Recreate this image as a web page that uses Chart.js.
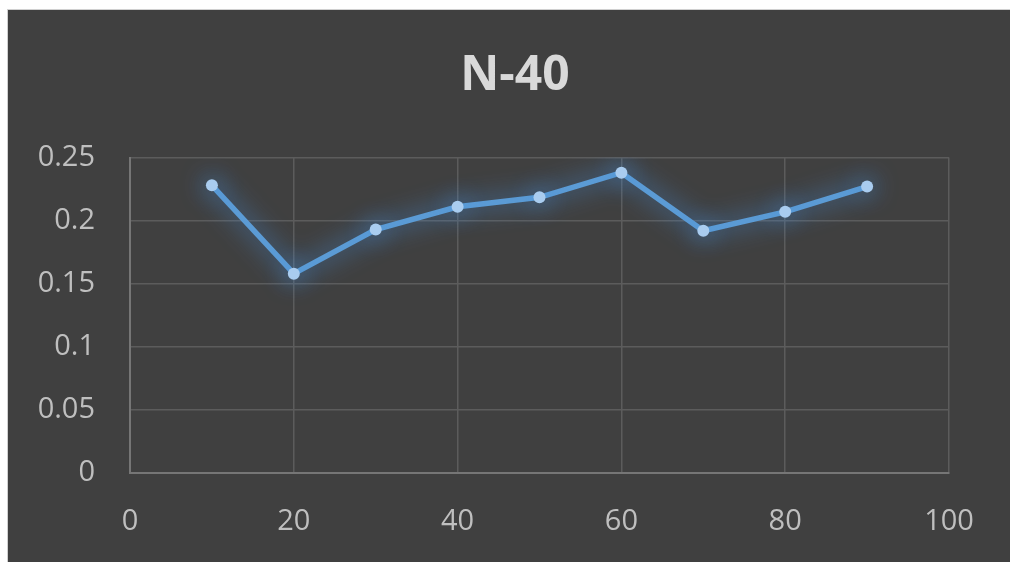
<!DOCTYPE html>
<html>
<head>
<meta charset="utf-8">
<script src="https://cdn.jsdelivr.net/npm/chart.js@4/dist/chart.umd.min.js"></script>
<style>
  html, body { margin: 0; padding: 0; background: #ffffff; width: 1010px; height: 562px; overflow: hidden; }
  #frame {
    position: absolute; left: 7px; top: 9px; width: 1003px; height: 553px;
    border-left: 1px solid #d0d0d0; border-top: 1px solid #d0d0d0;
    background: #404040;
  }
  #wrap { position: absolute; left: 0; top: 0; width: 1002px; height: 552px; }
</style>
</head>
<body>
<div id="frame"><div id="wrap"><canvas id="chart" width="1002" height="552"></canvas></div></div>
<script>
// Series: x positions and measured values
const xValues = [10, 20, 30, 40, 50, 60, 70, 80, 90];
const yValues = [0.228, 0.158, 0.193, 0.211, 0.2185, 0.238, 0.192, 0.207, 0.227];

// Axis ticks
const xTicks = [0, 20, 40, 60, 80, 100];
const yTicks = [0, 0.05, 0.1, 0.15, 0.2, 0.25];
const yTickLabels = ['0', '0.05', '0.1', '0.15', '0.2', '0.25'];

const chartTitle = 'N-40';

const points = xValues.map((x, i) => ({ x: x, y: yValues[i] }));

// Soft blue glow around the series line and markers
const glowPlugin = {
  id: 'glow',
  beforeDatasetDraw(chart) {
    const ctx = chart.ctx;
    ctx.save();
    ctx.shadowColor = 'rgba(70, 145, 225, 1)';
    ctx.shadowBlur = 24;
    ctx.shadowOffsetX = 0;
    ctx.shadowOffsetY = 0;
  },
  afterDatasetDraw(chart) {
    chart.ctx.restore();
  }
};

// Center the title over the whole dark panel rather than the padded box
const titleSpan = {
  id: 'titleSpan',
  afterLayout(chart) {
    const t = chart.titleBlock;
    if (t) { t.left = 12; t.right = chart.width; }
  }
};

const tickFont = { family: '"Open Sans", "Noto Sans", sans-serif', size: 29 };

new Chart(document.getElementById('chart'), {
  type: 'line',
  data: {
    datasets: [{
      data: points,
      borderColor: '#5b9bd5',
      borderWidth: 5.5,
      pointRadius: 6,
      pointBackgroundColor: '#a9ccef',
      pointBorderColor: '#a9ccef',
      pointBorderWidth: 0,
      tension: 0,
      fill: false
    }]
  },
  plugins: [glowPlugin, titleSpan],
  options: {
    responsive: false,
    animation: false,
    events: [],
    layout: { padding: { left: 0, right: 61, top: 0, bottom: 23 } },
    plugins: {
      legend: { display: false },
      tooltip: { enabled: false },
      title: {
        display: true,
        text: chartTitle,
        color: '#d9d9d9',
        font: { family: '"Open Sans", "Noto Sans", sans-serif', size: 48, weight: 'bold' },
        lineHeight: 1.2,
        padding: { top: 38, bottom: 52 }
      }
    },
    scales: {
      x: {
        type: 'linear',
        min: 0,
        max: 100,
        afterBuildTicks(scale) { scale.ticks = xTicks.map(v => ({ value: v })); },
        afterFit(scale) { scale.height = 66; },
        ticks: {
          color: '#bfbfbf',
          font: tickFont,
          padding: 31,
          maxRotation: 0,
          callback: v => String(v)
        },
        grid: { color: '#5c5c5c', lineWidth: 1.5, drawTicks: false },
        border: { color: '#767676', width: 2 }
      },
      y: {
        min: 0,
        max: 0.25,
        afterBuildTicks(scale) { scale.ticks = yTicks.map(v => ({ value: v })); },
        afterFit(scale) { scale.width = 122; },
        ticks: {
          color: '#bfbfbf',
          font: tickFont,
          padding: 35,
          callback: (v) => yTickLabels[yTicks.findIndex(t => Math.abs(t - v) < 1e-9)]
        },
        grid: { color: '#5c5c5c', lineWidth: 1.5, drawTicks: false },
        border: { color: '#767676', width: 2 }
      }
    }
  }
});
</script>
</body>
</html>
